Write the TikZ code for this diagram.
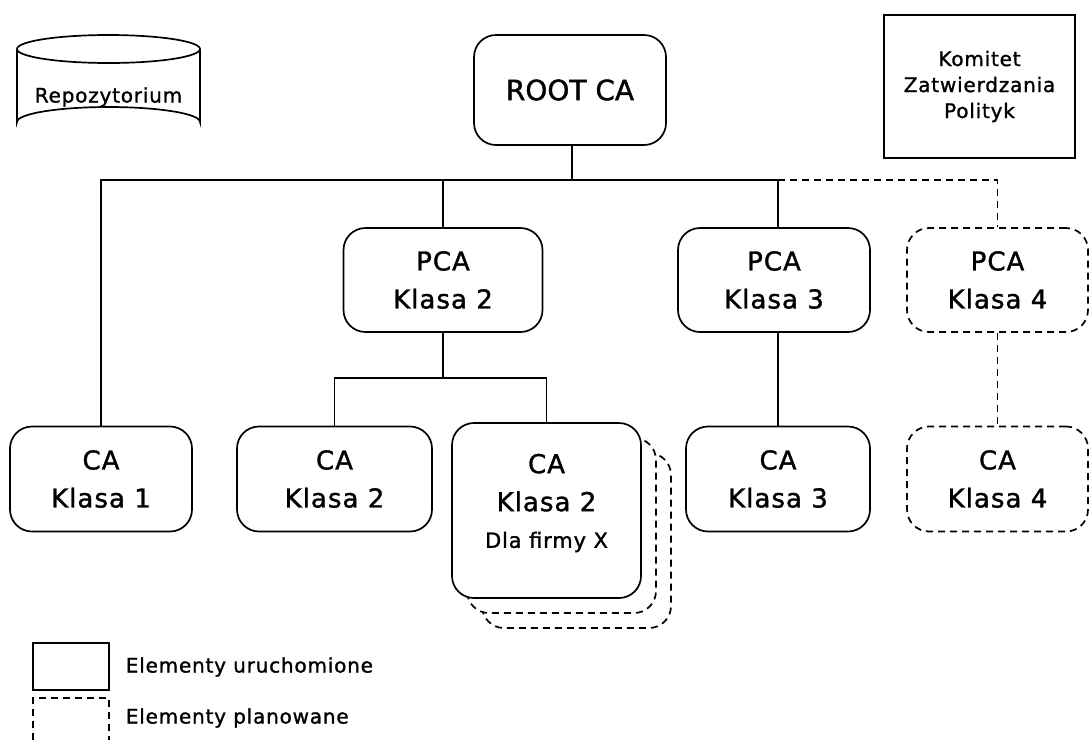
\documentclass[tikz,border=0pt]{standalone}
\usepackage{fontspec}
\setmainfont{DejaVu Sans}[LetterSpace=4,FakeBold=1.3]
\newfontfamily\rootfont{DejaVu Sans}[FakeBold=1.3]
\begin{document}
\begin{tikzpicture}[x=1pt,y=-1pt,line width=1.7pt,
  box/.style={draw,rounded corners=22pt,fill=white,align=center,inner sep=0pt},
  plan/.style={box,dashed,dash pattern=on 7pt off 5pt},
  lbl/.style={font=\fontsize{26}{38}\selectfont},
  small/.style={font=\fontsize{20}{26}\selectfont},
  dsh/.style={dashed,dash pattern=on 7pt off 5pt}]
\useasboundingbox (0,0) rectangle (1091,740);
% cylinder
\draw (17,49) -- (17,122) arc[x radius=91.5,y radius=15,start angle=180,end angle=360] -- (200,49);
\draw (108.5,49) ellipse[x radius=91.5,y radius=14];
\node[small] (repo) at (108.5,97) {Repozytorium};
% root
\node[box,font=\rootfont\fontsize{28}{34}\selectfont,minimum width=192pt,minimum height=110pt] (root) at (570,90) {ROOT CA};
\node[draw,rectangle,small,align=center,minimum width=191pt,minimum height=143pt,inner sep=0pt] (kom) at (979.5,86.5) {Komitet\\Zatwierdzania\\Polityk};
% PCAs
\node[box,lbl,minimum width=199pt,minimum height=104pt] (pca2) at (443,280) {PCA\\Klasa 2};
\node[box,lbl,minimum width=192pt,minimum height=104pt] (pca3) at (774,280) {PCA\\Klasa 3};
\node[plan,lbl,minimum width=181pt,minimum height=104pt] (pca4) at (997.5,280) {PCA\\Klasa 4};
% CAs
\node[box,lbl,minimum width=182pt,minimum height=105pt] (ca1) at (101,479) {CA\\Klasa 1};
\node[box,lbl,minimum width=195pt,minimum height=105pt] (ca2) at (334.5,479) {CA\\Klasa 2};
\node[plan,minimum width=189pt,minimum height=175pt] (cax3) at (576.5,540.5) {};
\node[plan,minimum width=189pt,minimum height=175pt] (cax2) at (561.5,525.5) {};
\node[box,minimum width=189pt,minimum height=175pt] (cax) at (546.5,510.5) {};
\node[lbl,align=center,anchor=north,inner sep=0pt] (caxt) at (546.5,453) {CA\\Klasa 2};
\node[font=\fontsize{21}{26}\selectfont,anchor=north,inner sep=0pt] (caxf) at (546.5,531) {Dla firmy X};
\node[box,lbl,minimum width=184pt,minimum height=105pt] (ca3) at (778,479) {CA\\Klasa 3};
\node[plan,lbl,minimum width=181pt,minimum height=105pt] (ca4) at (997.5,479) {CA\\Klasa 4};
% connectors
\coordinate (bus) at (572,180);
\draw (root.south -| bus) -- (bus);
\draw (ca1.north) -- (ca1.north |- bus) -- (ca3.north |- bus);
\draw (pca2.north |- bus) -- (pca2.north);
\draw (ca3.north |- bus) -- (ca3.north |- pca3.north);
\draw[dsh] (ca3.north |- bus) -- (pca4.north |- bus) -- (pca4.north);
\coordinate (sub) at (443,378);
\draw (pca2.south) -- (sub);
\draw (ca2.north) -- (ca2.north |- sub) -- (cax.north |- sub) -- (cax.north);
\draw (ca3.north |- pca3.south) -- (ca3.north);
\draw[dsh] (pca4.south) -- (ca4.north);
% legend
\node[draw,rectangle,minimum width=76pt,minimum height=47pt,inner sep=0pt] (leg1) at (71,666.5) {};
\draw[dsh] (33,740) -- (33,698) -- (109,698) -- (109,740);
\coordinate (leg2) at (109,719);
\node[small,anchor=west,inner sep=0pt] (t1) at (125,667) {Elementy uruchomione};
\node[small,anchor=west,inner sep=0pt] (t2) at (125,718) {Elementy planowane};
\end{tikzpicture}
\end{document}
